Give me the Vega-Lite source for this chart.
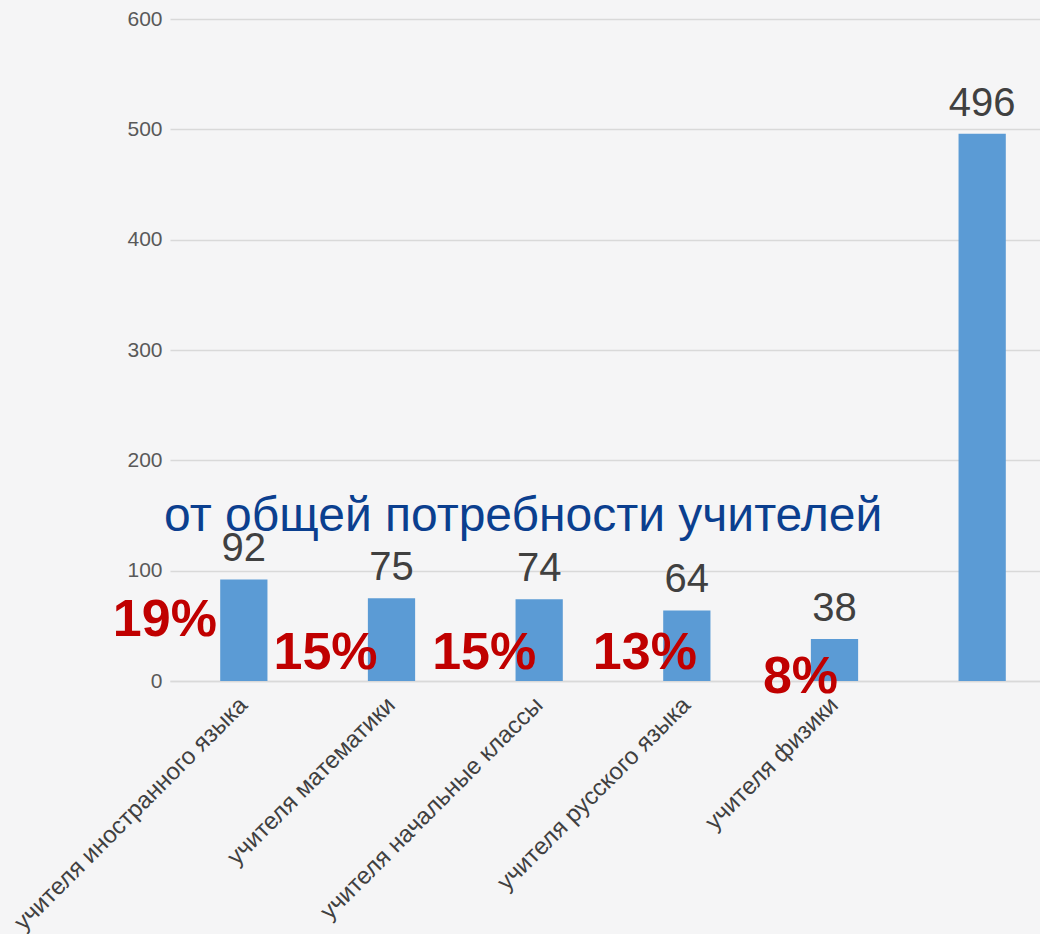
{
  "$schema": "https://vega.github.io/schema/vega-lite/v6.json",
  "width": 886,
  "height": 662,
  "autosize": {"type": "none"},
  "padding": {"left": 170, "top": 19, "right": 0, "bottom": 253},
  "background": "#f5f5f6",
  "config": {"view": {"stroke": null}, "font": "Liberation Sans"},
  "data": {"values": [
    {"cat": "учителя иностранного языка", "v": 92, "pct": "19%"},
    {"cat": "учителя математики", "v": 75, "pct": "15%"},
    {"cat": "учителя начальные классы", "v": 74, "pct": "15%"},
    {"cat": "учителя русского языка", "v": 64, "pct": "13%"},
    {"cat": "учителя физики", "v": 38, "pct": "8%"},
    {"cat": "всего", "v": 496, "pct": ""}
  ]},
  "encoding": {
    "x": {"field": "cat", "type": "nominal", "sort": null,
      "scale": {"paddingInner": 0.68, "paddingOuter": 0.34},
      "axis": {"title": null, "labelAngle": -45, "labelAlign": "right", "labelBaseline": "middle",
        "labelFontSize": 24, "labelColor": "#404040", "labelPadding": 20, "ticks": false,
        "domainColor": "#d9d9d9", "domainWidth": 1.5, "labelLimit": 500, "labelOverlap": false,
        "labelExpr": "datum.value == 'всего' ? '' : datum.value"}}
  },
  "layer": [
    {
      "mark": {"type": "bar", "color": "#5b9bd5"},
      "encoding": {
        "y": {"field": "v", "type": "quantitative", "scale": {"domain": [0, 600]},
          "axis": {"title": null, "values": [0, 100, 200, 300, 400, 500, 600], "domain": false, "ticks": false,
            "labelFontSize": 21, "labelColor": "#595959", "labelPadding": 8,
            "gridColor": "#d9d9d9", "gridWidth": 1.5}}
      }
    },
    {
      "mark": {"type": "text", "fontSize": 40, "color": "#404040", "baseline": "bottom", "dy": -10},
      "encoding": {"y": {"field": "v", "type": "quantitative"}, "text": {"field": "v"}}
    },
    {
      "transform": [{"filter": "datum.cat == 'учителя иностранного языка'"}],
      "mark": {"type": "text", "fontSize": 52, "fontWeight": "bold", "color": "#c00000", "baseline": "middle", "dx": -79},
      "encoding": {"y": {"datum": 55}, "text": {"field": "pct"}}
    },
    {
      "transform": [{"filter": "datum.cat == 'учителя математики'"}],
      "mark": {"type": "text", "fontSize": 52, "fontWeight": "bold", "color": "#c00000", "baseline": "middle", "dx": -66},
      "encoding": {"y": {"datum": 25}, "text": {"field": "pct"}}
    },
    {
      "transform": [{"filter": "datum.cat == 'учителя начальные классы'"}],
      "mark": {"type": "text", "fontSize": 52, "fontWeight": "bold", "color": "#c00000", "baseline": "middle", "dx": -55},
      "encoding": {"y": {"datum": 25}, "text": {"field": "pct"}}
    },
    {
      "transform": [{"filter": "datum.cat == 'учителя русского языка'"}],
      "mark": {"type": "text", "fontSize": 52, "fontWeight": "bold", "color": "#c00000", "baseline": "middle", "dx": -42},
      "encoding": {"y": {"datum": 25}, "text": {"field": "pct"}}
    },
    {
      "transform": [{"filter": "datum.cat == 'учителя физики'"}],
      "mark": {"type": "text", "fontSize": 52, "fontWeight": "bold", "color": "#c00000", "baseline": "middle", "dx": -34},
      "encoding": {"y": {"datum": 3.5}, "text": {"field": "pct"}}
    },
    {
      "data": {"values": [{"t": "от общей потребности учителей"}]},
      "mark": {"type": "text", "fontSize": 48, "color": "#0b3f8f", "baseline": "middle", "dx": -16},
      "encoding": {
        "x": {"datum": "учителя начальные классы"},
        "y": {"datum": 149},
        "text": {"field": "t"}
      }
    }
  ]
}
